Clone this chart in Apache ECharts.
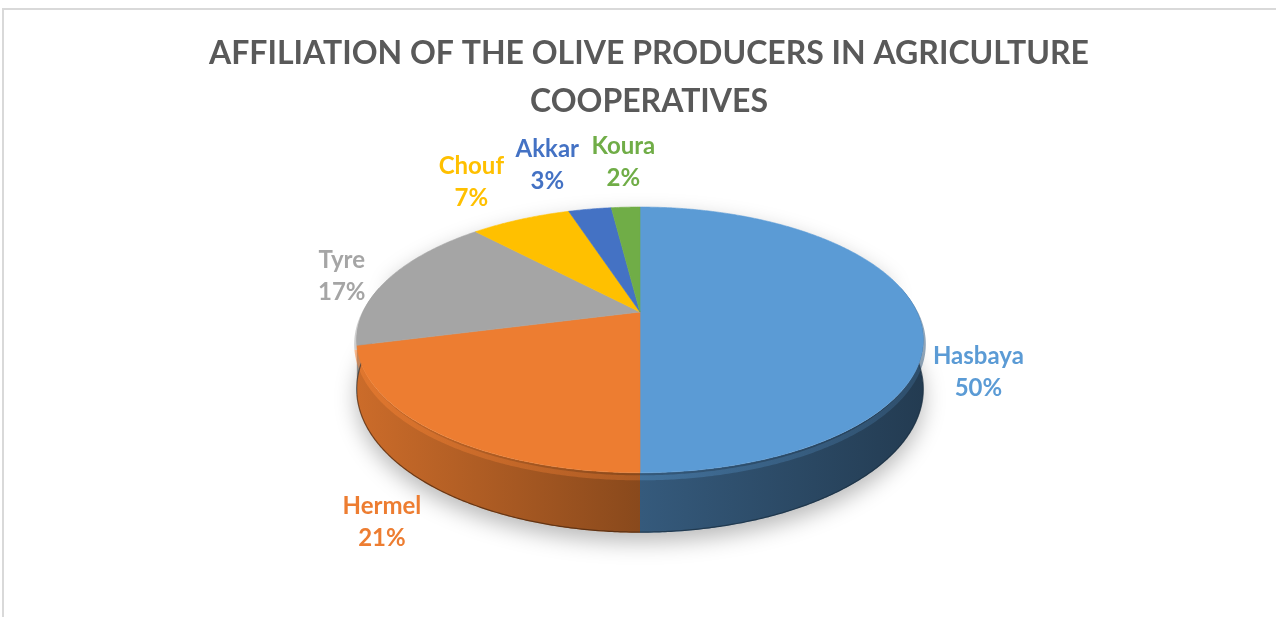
<!DOCTYPE html>
<html>
<head>
<meta charset="utf-8">
<title>Affiliation of the olive producers in agriculture cooperatives</title>
<script src="https://cdn.jsdelivr.net/npm/echarts@6/dist/echarts.min.js"></script>
<style>
  html, body { margin: 0; padding: 0; background: #ffffff; overflow: hidden; }
  #frame { position: absolute; left: 2px; top: 8px; width: 1400px; height: 700px;
           border-left: 2px solid #d9d9d9; border-top: 2px solid #d9d9d9; }
  #chart { position: absolute; left: 0; top: 0; width: 1276px; height: 617px; }
</style>
</head>
<body>
<div id="frame"></div>
<div id="chart"></div>
<script>
// ---- data ----
const categories = ['Hasbaya', 'Hermel', 'Tyre', 'Chouf', 'Akkar', 'Koura'];
const shares = [50, 21, 17, 7, 3, 2];
const sliceColors = ['#5B9BD5', '#ED7D31', '#A5A5A5', '#FFC000', '#4472C4', '#70AD47'];
const titleLines = ['AFFILIATION OF THE OLIVE PRODUCERS IN AGRICULTURE', 'COOPERATIVES'];

// ---- tilted disc geometry (perspective view of a flat cylinder) ----
const DISC = { cx: 640, cy: 312, rx: 277, ry: 127, persp: 0.21, depth: 47.4 };
const FONT = 'Lato, "Open Sans", sans-serif';

// theta: clockwise from 12 o'clock; r: radius fraction; drop: wall depth
function project(theta, r, drop) {
  const u = r * Math.sin(theta);
  const v = -r * Math.cos(theta);
  const d = 1 - DISC.persp * v;
  return [DISC.cx + DISC.rx * u / d, DISC.cy + (DISC.ry * v + drop) / d];
}
function arc(a0, a1, drop) {
  const n = Math.max(2, Math.ceil((a1 - a0) / 0.008));
  const pts = [];
  for (let i = 0; i <= n; i++) pts.push(project(a0 + (a1 - a0) * i / n, 1, drop));
  return pts;
}
function shade(hex, f) {
  const n = parseInt(hex.slice(1), 16);
  const c = [(n >> 16) & 255, (n >> 8) & 255, n & 255].map(x => Math.max(0, Math.min(255, Math.round(x * f))));
  return 'rgb(' + c.join(',') + ')';
}

// slice angles from the shares
const total = shares.reduce((a, b) => a + b, 0);
const angles = [];
{
  let acc = 0;
  shares.forEach(s => {
    const a0 = acc / total * Math.PI * 2;
    acc += s;
    angles.push([a0, acc / total * Math.PI * 2]);
  });
}

// label anchors: outside the rim, front labels below the wall, back ones lifted
const labelPos = angles.map(([a0, a1]) => {
  const mid = (a0 + a1) / 2;
  const u = Math.sin(mid);
  const v = -Math.cos(mid);
  const p = project(mid, 1.2, 0);
  p[1] += v > -1e-6 ? 60 : 16 + v * 44;
  if (v > -1e-6) p[0] += u * 6;
  return { x: p[0], y: p[1], back: v < -0.5 };
});
// keep the crowded labels at the back from overlapping
{
  const backIdx = labelPos.map((p, i) => i).filter(i => labelPos[i].back)
    .sort((a, b) => labelPos[b].x - labelPos[a].x);
  for (let k = 1; k < backIdx.length; k++) {
    const prev = labelPos[backIdx[k - 1]], cur = labelPos[backIdx[k]];
    if (cur.x > prev.x - 76) cur.x = prev.x - 76;
  }
}

const VIS0 = Math.PI / 2 - 0.2, VIS1 = Math.PI * 3 / 2 + 0.2;
const X0 = DISC.cx - DISC.rx * 1.03, X1 = DISC.cx + DISC.rx * 1.03;

function sideGradient(color, fl, fm, fr) {
  return new echarts.graphic.LinearGradient(X0, 0, X1, 0, [
    { offset: 0, color: shade(color, fl) },
    { offset: 0.5, color: shade(color, fm) },
    { offset: 1, color: shade(color, fr) }
  ], true);
}

function renderSlice(params, api) {
  const i = params.dataIndex;
  const [a0, a1] = angles[i];
  const color = sliceColors[i];
  const children = [];

  // top face
  children.push({
    type: 'polygon', z2: 20,
    shape: { points: [[DISC.cx, DISC.cy]].concat(arc(a0, a1, 0)) },
    style: { fill: color, stroke: color, lineWidth: 0.6 }
  });

  // visible part of the outer wall
  const s0 = Math.max(a0, VIS0), s1 = Math.min(a1, VIS1);
  if (s1 > s0) {
    const topEdge = arc(s0, s1, 0);
    const botEdge = arc(s0, s1, DISC.depth);
    children.push({
      type: 'polygon', z2: 5,
      shape: { points: topEdge.concat(botEdge.slice().reverse()) },
      style: { fill: sideGradient(color, 0.86, 0.58, 0.38), stroke: 'none' }
    });
    // rounded rim: light on the left, shadowed on the right
    children.push({
      type: 'polyline', z2: 7,
      shape: { points: arc(s0, s1, 4) },
      style: { stroke: sideGradient(color, 1.02, 0.85, 0.6), lineWidth: 5, opacity: 0.55, fill: 'none' }
    });
    // dark lower edge
    children.push({
      type: 'polyline', z2: 7,
      shape: { points: arc(s0, s1, DISC.depth - 0.5) },
      style: { stroke: shade(color, 0.3), lineWidth: 1.2, opacity: 0.7, fill: 'none' }
    });
  }

  // label
  const lp = labelPos[i];
  children.push({
    type: 'text', z2: 30, x: lp.x, y: lp.y,
    style: {
      text: categories[i] + '\n' + Math.round(api.value(0) / total * 100) + '%',
      fill: color, fontSize: 24, fontWeight: 'bold', fontFamily: FONT,
      align: 'center', verticalAlign: 'middle', lineHeight: 32
    }
  });
  return { type: 'group', children };
}

// soft shadow under the disc
function renderShadow() {
  const pts = arc(Math.PI / 2 - 0.3, Math.PI * 3 / 2 + 0.3, DISC.depth)
    .concat(arc(Math.PI * 3 / 2 + 0.3, Math.PI * 5 / 2 - 0.3, 0));
  return {
    type: 'polygon',
    shape: { points: pts },
    style: {
      fill: '#ffffff',
      shadowBlur: 22, shadowColor: 'rgba(0,0,0,0.28)', shadowOffsetY: 9
    }
  };
}

const chart = echarts.init(document.getElementById('chart'), null, { renderer: 'canvas' });
chart.setOption({
  backgroundColor: 'transparent',
  animation: false,
  title: {
    text: titleLines.join('\n'),
    left: 644, top: 25, textAlign: 'center',
    textStyle: { fontSize: 32, fontWeight: 'bold', color: '#595959', fontFamily: FONT, lineHeight: 48 }
  },
  series: [
    {
      type: 'custom', coordinateSystem: 'none', silent: true, z: 1,
      data: [[0]],
      renderItem: renderShadow
    },
    {
      type: 'custom', coordinateSystem: 'none', silent: true, z: 2,
      data: shares.map((s, i) => ({ name: categories[i], value: [s] })),
      renderItem: renderSlice
    }
  ]
});
</script>
</body>
</html>
